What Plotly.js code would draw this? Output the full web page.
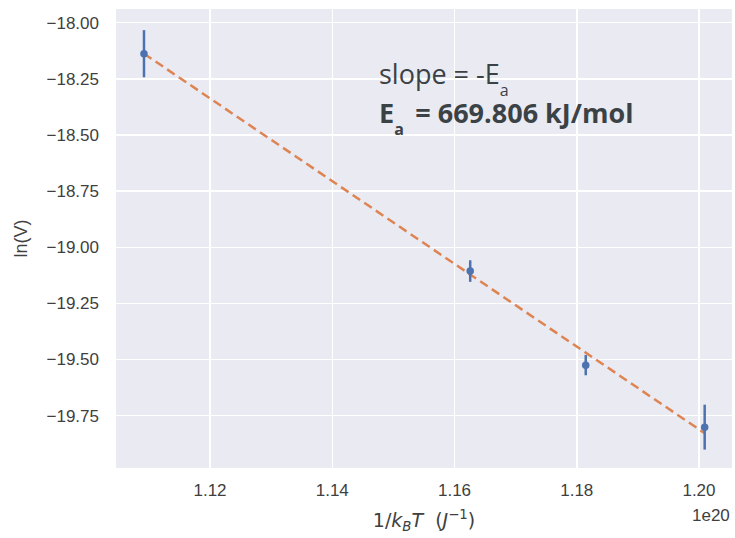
<!DOCTYPE html>
<html>
<head>
<meta charset="utf-8">
<script src="https://cdn.plot.ly/plotly-3.0.1.min.js"></script>
<style>html,body{margin:0;padding:0;background:#fff;}#chart{width:735px;height:538px;}</style>
</head>
<body>
<div id="chart"></div>
<script>
// Data (x in units of 1e20 J^-1)
var invKT = [1.1092, 1.16257, 1.18147, 1.20093];
var lnV = [-18.138, -19.106, -19.525, -19.801];
var lnVErr = [0.105, 0.048, 0.045, 0.100];
var fitX = [1.1092, 1.20093];
var fitY = [-18.138, -19.828];
var xTickVals = [1.12, 1.14, 1.16, 1.18, 1.20];
var xTickText = ['1.12', '1.14', '1.16', '1.18', '1.20'];
var yTickVals = [-18.00, -18.25, -18.50, -18.75, -19.00, -19.25, -19.50, -19.75];
var yTickText = ['\u221218.00', '\u221218.25', '\u221218.50', '\u221218.75', '\u221219.00', '\u221219.25', '\u221219.50', '\u221219.75'];
var noteLines = ['slope = -E', 'E', '\u2009 = 669.806 kJ/mol'];
var noteSub = 'a';

var blue = '#4C72B0', orange = '#DD8452';
var tickFont = {family: 'Liberation Sans, Arial, sans-serif', size: 17, color: '#404040'};

function sub(s) {
  return '<sub><sub><sub><span style="font-size:16px">' + s + '</span></sub></sub></sub>';
}
var noteText =
  '<span style="font-size:27px">' + noteLines[0] + sub(noteSub) + '</span><br>' +
  '<span style="font-size:27px"><b>' + noteLines[1] + sub(noteSub) + noteLines[2] + '</b></span>';

var traces = [
  {
    x: fitX, y: fitY, mode: 'lines', type: 'scatter',
    line: {color: orange, width: 2.5, dash: '9px,5px'},
    hoverinfo: 'skip', showlegend: false
  },
  {
    x: invKT, y: lnV, mode: 'markers', type: 'scatter',
    marker: {color: blue, size: 7.5},
    error_y: {type: 'data', array: lnVErr, visible: true, color: blue, thickness: 2.5, width: 0},
    showlegend: false
  }
];

var layout = {
  width: 735, height: 538,
  margin: {l: 116, r: 3, t: 9, b: 70, pad: 0},
  paper_bgcolor: '#ffffff',
  plot_bgcolor: '#EAEAF2',
  showlegend: false,
  xaxis: {
    range: [1.10462, 1.2054],
    tickvals: xTickVals, ticktext: xTickText,
    showgrid: true, gridcolor: '#ffffff', gridwidth: 1.5,
    zeroline: false, showline: false, ticks: '',
    tickfont: tickFont, ticklabelstandoff: 10,
    title: {
      text: '1/<i>k</i><sub><i>B</i></sub><i>T</i>  (<i>J</i><sup>\u22121</sup>)',
      font: {family: 'DejaVu Sans, sans-serif', size: 19, color: '#404040'},
      standoff: 14
    }
  },
  yaxis: {
    range: [-19.983, -17.939],
    tickvals: yTickVals, ticktext: yTickText,
    showgrid: true, gridcolor: '#ffffff', gridwidth: 1.5,
    zeroline: false, showline: false, ticks: '',
    tickfont: tickFont, ticklabelstandoff: 16,
    title: {
      text: 'ln(V)',
      font: {family: 'Liberation Sans, Arial, sans-serif', size: 18, color: '#404040'},
      standoff: 14
    }
  },
  annotations: [
    {
      xref: 'paper', yref: 'paper', x: 0.4237, y: 0.808,
      xanchor: 'left', yanchor: 'middle', align: 'left', showarrow: false,
      text: noteText,
      font: {family: 'Open Sans, sans-serif', size: 30, color: '#3b4246'}
    },
    {
      xref: 'paper', yref: 'paper', x: 1, y: -0.104,
      xanchor: 'right', yanchor: 'middle', showarrow: false,
      text: '1e20',
      font: {family: 'Liberation Sans, Arial, sans-serif', size: 17, color: '#404040'}
    }
  ]
};

Plotly.newPlot('chart', traces, layout, {displayModeBar: false, staticPlot: true});
</script>
</body>
</html>
